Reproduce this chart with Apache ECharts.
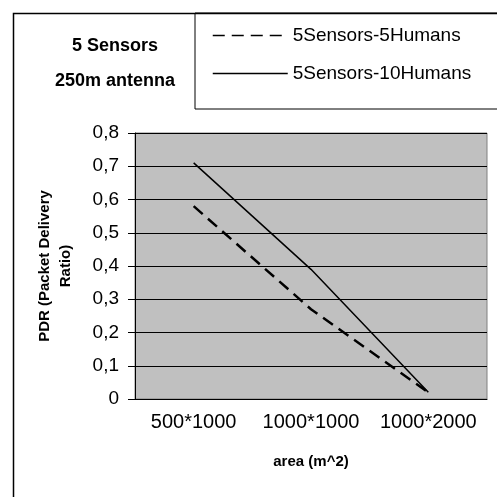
<!DOCTYPE html>
<html>
<head>
<meta charset="utf-8">
<script src="https://cdn.jsdelivr.net/npm/echarts@6/dist/echarts.min.js"></script>
<style>
  html, body { margin: 0; padding: 0; background: #fff; }
  #chart { width: 497px; height: 497px; }
</style>
</head>
<body>
<div id="chart"></div>
<script>
var categories = ['500*1000', '1000*1000', '1000*2000'];
var humans5 = [0.58, 0.27, 0.02];
var humans10 = [0.71, 0.39, 0.02];
var yTicks = [0, 0.8, 0.1]; // min, max, interval

var option = {
  animation: false,
  textStyle: { fontFamily: 'Liberation Sans, Arial, sans-serif' },
  title: {
    text: '5 Sensors\n250m antenna',
    left: 110,
    top: 24,
    textAlign: 'center',
    textStyle: { fontSize: 18, fontWeight: 'bold', color: '#000', lineHeight: 35 }
  },
  legend: {
    orient: 'vertical',
    left: 195,
    top: 13,
    padding: [13, 90, 26, 17],
    itemGap: 19,
    itemWidth: 75,
    itemHeight: 20,
    borderColor: '#000',
    borderWidth: 1,
    data: ['5Sensors-5Humans', '5Sensors-10Humans'],
    itemStyle: { opacity: 0 },
    lineStyle: { width: 1.5 },
    textStyle: { fontSize: 19, color: '#000' }
  },
  grid: {
    left: 135,
    right: 10,
    top: 133,
    bottom: 98,
    show: true,
    backgroundColor: '#c0c0c0',
    borderColor: '#808080',
    borderWidth: 1
  },
  xAxis: {
    type: 'category',
    data: categories,
    name: 'area (m^2)',
    nameLocation: 'middle',
    nameGap: 55,
    nameTextStyle: { fontSize: 15, fontWeight: 'bold', color: '#000' },
    axisLine: { lineStyle: { color: '#000' } },
    axisTick: { length: 6, lineStyle: { color: '#000' } },
    axisLabel: { fontSize: 20, color: '#000', margin: 13, interval: 0 }
  },
  yAxis: {
    type: 'value',
    min: yTicks[0],
    max: yTicks[1],
    interval: yTicks[2],
    name: 'PDR (Packet Delivery\nRatio)',
    nameLocation: 'middle',
    nameGap: 59,
    nameTextStyle: { fontSize: 15, fontWeight: 'bold', color: '#000', lineHeight: 21 },
    axisLine: { show: true, lineStyle: { color: '#000' } },
    axisTick: { show: true, length: 7, lineStyle: { color: '#000' } },
    axisLabel: {
      fontSize: 19,
      color: '#000',
      margin: 16,
      formatter: function (v) { return String(Math.round(v * 10) / 10).replace('.', ','); }
    },
    splitLine: { lineStyle: { color: '#000', width: 1 } }
  },
  graphic: [{
    type: 'rect',
    shape: { x: 13.5, y: 13.5, width: 600, height: 600 },
    style: { fill: 'none', stroke: '#000', lineWidth: 1.5 },
    silent: true,
    z: -1
  }],
  series: [
    {
      name: '5Sensors-5Humans',
      type: 'line',
      data: humans5,
      symbol: 'none',
      color: '#000',
      lineStyle: { color: '#000', width: 2.5, type: [12, 7] }
    },
    {
      name: '5Sensors-10Humans',
      type: 'line',
      data: humans10,
      symbol: 'none',
      color: '#000',
      lineStyle: { color: '#000', width: 1.5 }
    }
  ]
};

echarts.init(document.getElementById('chart')).setOption(option);
</script>
</body>
</html>
